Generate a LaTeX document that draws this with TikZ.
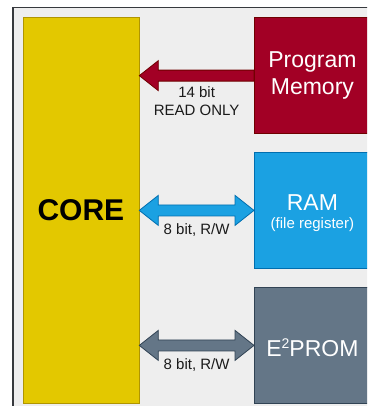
\documentclass[tikz,border=0pt]{standalone}
\usepackage{fontspec}
\setmainfont{Liberation Sans}
\usetikzlibrary{calc}
\definecolor{framebg}{HTML}{EEEEEE}
\definecolor{frameln}{HTML}{36393D}
\definecolor{corefill}{HTML}{E3C800}
\definecolor{coreln}{HTML}{B09500}
\definecolor{pmfill}{HTML}{A20025}
\definecolor{pmln}{HTML}{6F0000}
\definecolor{ramfill}{HTML}{1BA1E2}
\definecolor{ramln}{HTML}{006EAF}
\definecolor{eefill}{HTML}{647687}
\definecolor{eeln}{HTML}{314354}
\definecolor{txt}{HTML}{1A1A1A}
\begin{document}
\begin{tikzpicture}[x=1pt,y=-1pt,
  blk/.style={draw, line width=0.8pt, anchor=north west, inner sep=0pt,
    minimum width=116pt, minimum height=115.5pt, text=white, align=center},
  bigtxt/.style={text=white, inner sep=0pt, font=\fontsize{23}{27}\selectfont},
  smalltxt/.style={text=white, inner sep=0pt, font=\fontsize{15}{18}\selectfont},
  lbl/.style={text=txt, inner sep=0pt, align=center, font=\fontsize{15}{17.5}\selectfont},
  arr/.style={line width=0.8pt, line join=miter}
]
\useasboundingbox (0,0) rectangle (367,406);
\begin{scope}
\clip (0,0) rectangle (367,406);
\draw[fill=framebg, draw=frameln, line width=1.3pt] (13,7.3) rectangle (420,450);
\node[blk, fill=corefill, draw=coreln, text=black, minimum height=385.5pt,
  font=\bfseries\fontsize{30}{34}\selectfont] (core) at (22.5,17.5) {CORE};
\node[blk, fill=pmfill, draw=pmln, font=\fontsize{23}{27}\selectfont] (pm) at (254,17.5) {Program\\Memory};
\node[blk, fill=ramfill, draw=ramln, minimum height=116pt] (ram) at (254,152) {};
\node[blk, fill=eefill, draw=eeln, minimum height=116pt] (ee) at (254,287) {};
\node[bigtxt] (ramt) at ($(ram.center)+(0,-8.3)$) {RAM};
\node[smalltxt] (rams) at ($(ram.center)+(0,14.3)$) {(file register)};
\node[bigtxt] (eet) at ($(ee.center)+(0,2)$) {E\raisebox{7.7pt}{\fontsize{14}{14}\selectfont 2}PROM};
% arrows
\coordinate (t1) at (core.east |- pm.west);
\coordinate (t2) at (core.east |- ram.west);
\coordinate (t3) at (core.east |- ee.west);
\draw[arr, fill=pmfill, draw=pmln]
  (t1) -- ($(t1)+(19,-15)$) -- ($(t1)+(19,-5.5)$) -- ($(pm.west)+(0,-5.5)$)
  -- ($(pm.west)+(0,5.5)$) -- ($(t1)+(19,5.5)$) -- ($(t1)+(19,15)$) -- cycle;
\draw[arr, fill=ramfill, draw=ramln]
  (t2) -- ($(t2)+(19,-15)$) -- ($(t2)+(19,-5.5)$) -- ($(ram.west)+(-19,-5.5)$)
  -- ($(ram.west)+(-19,-15)$) -- (ram.west) -- ($(ram.west)+(-19,15)$)
  -- ($(ram.west)+(-19,5.5)$) -- ($(t2)+(19,5.5)$) -- ($(t2)+(19,15)$) -- cycle;
\draw[arr, fill=eefill, draw=eeln]
  (t3) -- ($(t3)+(19,-15)$) -- ($(t3)+(19,-5.5)$) -- ($(ee.west)+(-19,-5.5)$)
  -- ($(ee.west)+(-19,-15)$) -- (ee.west) -- ($(ee.west)+(-19,15)$)
  -- ($(ee.west)+(-19,5.5)$) -- ($(t3)+(19,5.5)$) -- ($(t3)+(19,15)$) -- cycle;
\node[lbl] (l1) at ($($(t1)!0.5!(pm.west)$)+(0,25.5)$) {14 bit\\READ ONLY};
\node[lbl] (l2) at ($($(t2)!0.5!(ram.west)$)+(0,19.5)$) {8 bit, R/W};
\node[lbl] (l3) at ($($(t3)!0.5!(ee.west)$)+(0,19.5)$) {8 bit, R/W};
\end{scope}
\end{tikzpicture}
\end{document}
